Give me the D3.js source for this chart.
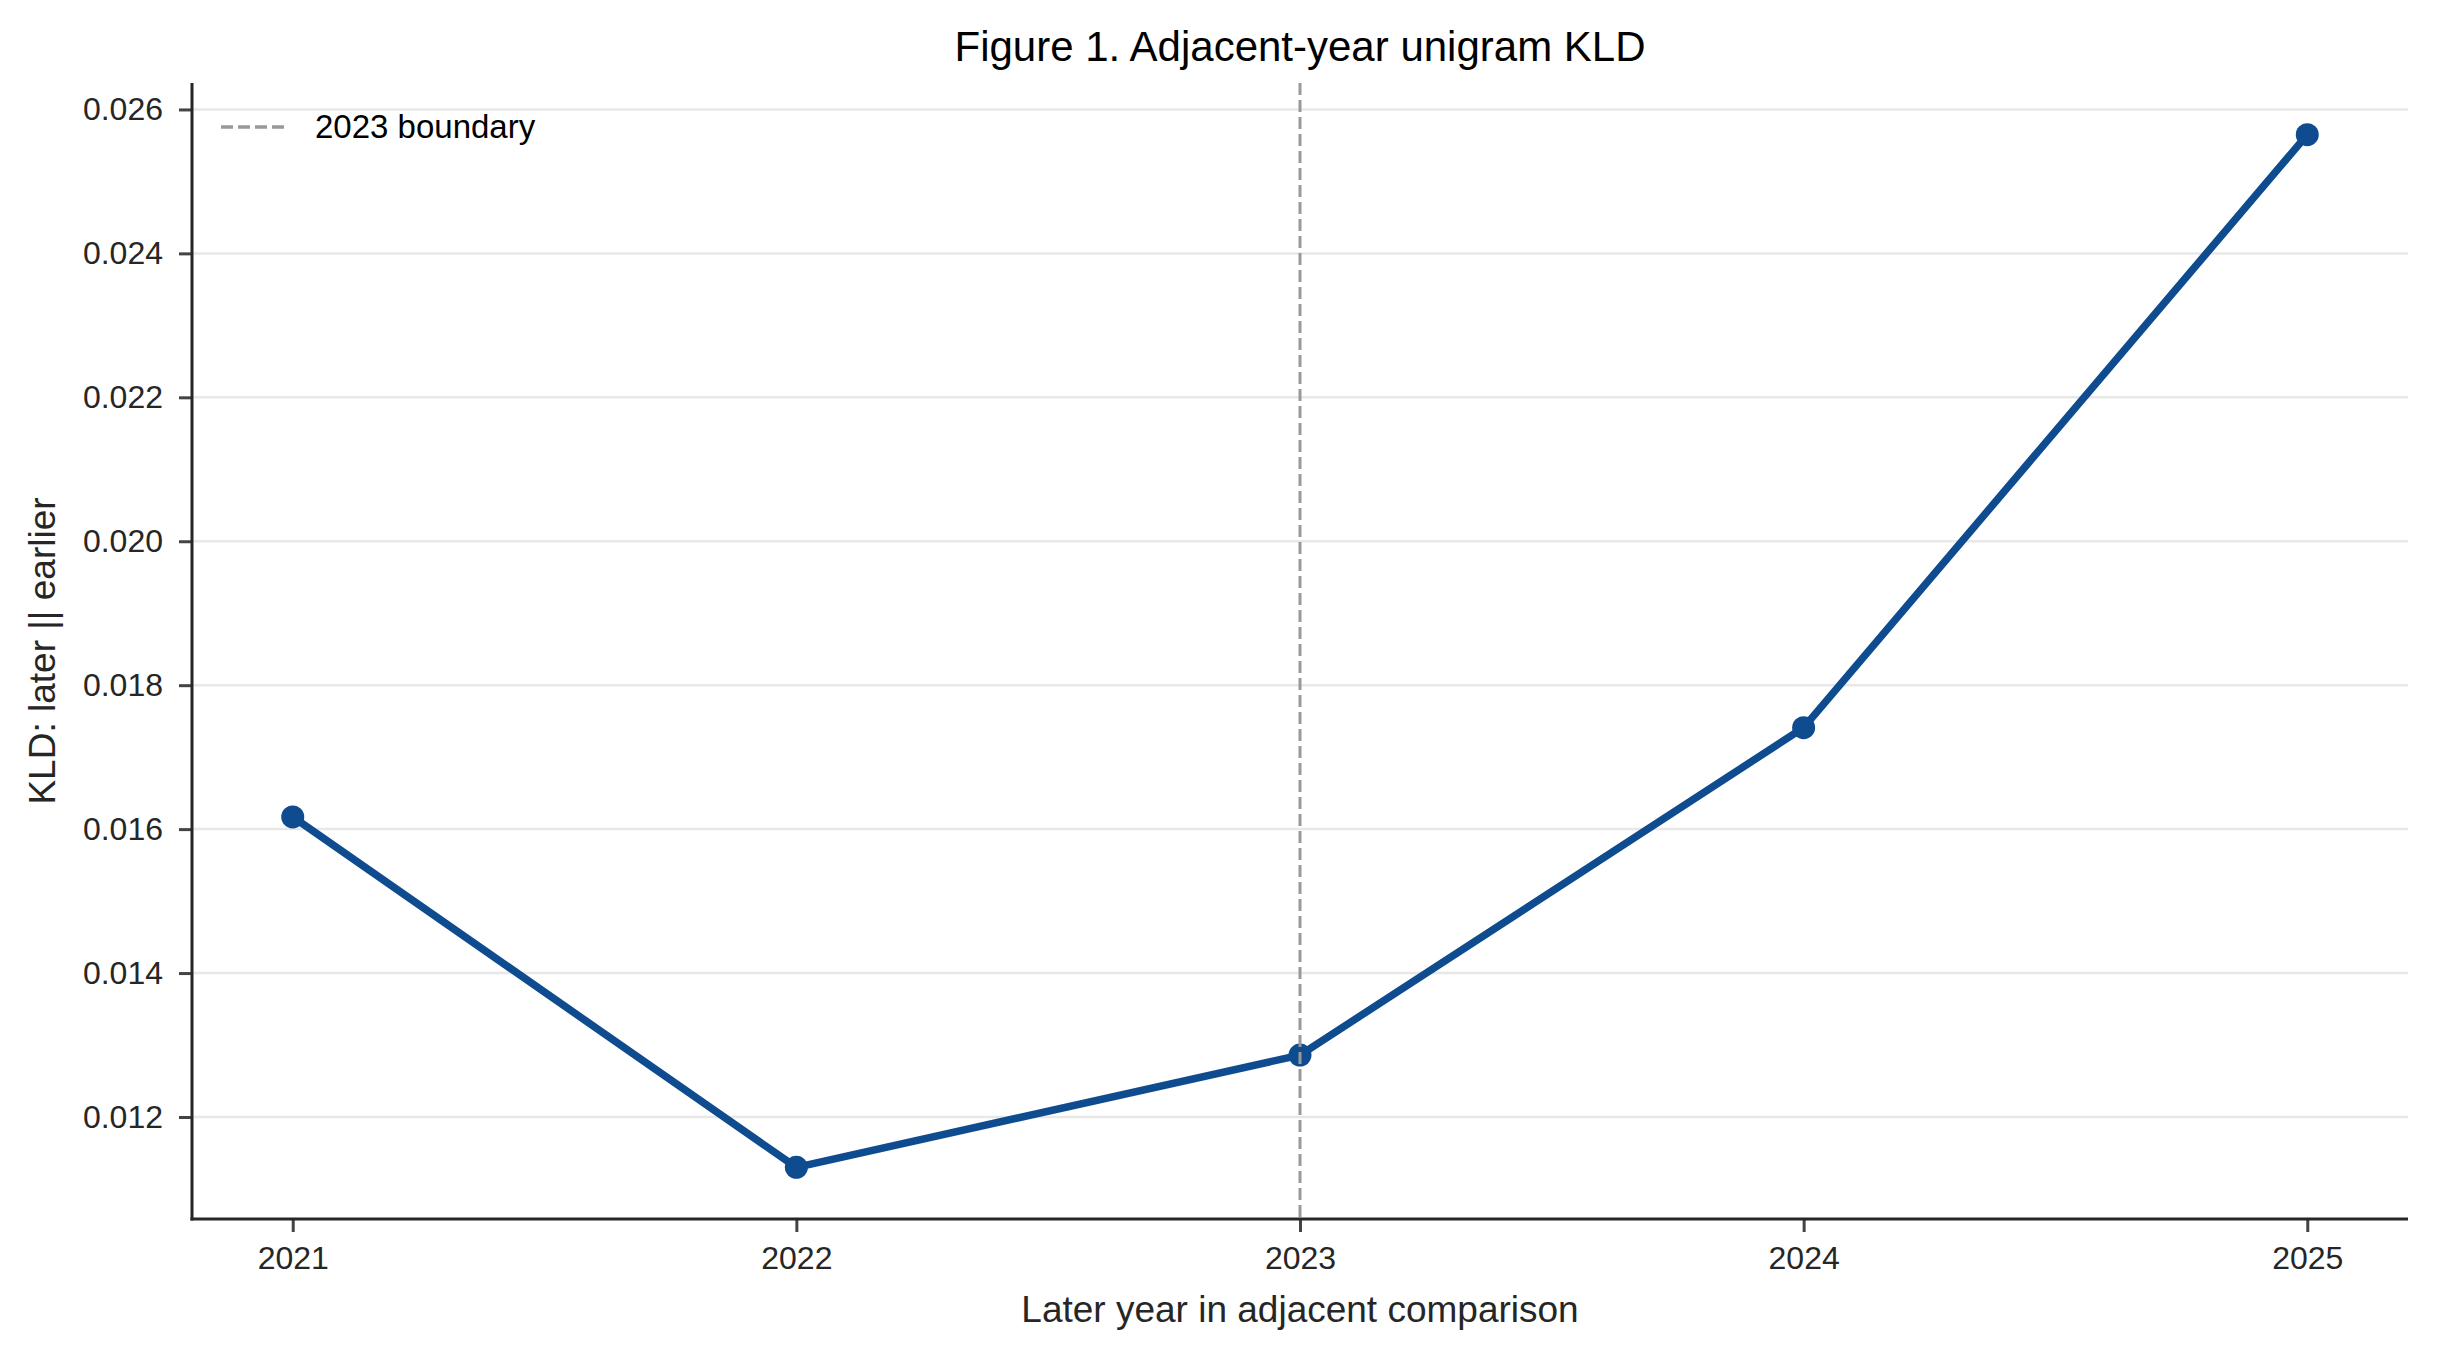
<!DOCTYPE html>
<html>
<head>
<meta charset="utf-8">
<script src="https://cdn.jsdelivr.net/npm/d3@7"></script>
<style>
  html, body { margin: 0; padding: 0; background: #ffffff; }
  svg { display: block; font-family: "Liberation Sans", Arial, sans-serif; }
</style>
</head>
<body>
<svg id="chart" width="2438" height="1358"></svg>
<script>
// ---- data ----
const years = [2021, 2022, 2023, 2024, 2025];
const kld = [0.01617, 0.01130, 0.01286, 0.01741, 0.02565];
const yTicks = [0.012, 0.014, 0.016, 0.018, 0.020, 0.022, 0.024, 0.026];
const boundaryYear = 2023;
const titleText = "Figure 1. Adjacent-year unigram KLD";
const xLabelText = "Later year in adjacent comparison";
const yLabelText = "KLD: later || earlier";
const legendText = "2023 boundary";

// ---- layout ----
const W = 2438, H = 1358;
const m = { left: 192, right: 2408, top: 83, bottom: 1219 };
const lineColor = "#0e4b8f";
const textColor = "#262626";

const svg = d3.select("#chart");
svg.append("rect").attr("width", W).attr("height", H).attr("fill", "#fff");

// data-range with 5% margins (like matplotlib)
const xMin = d3.min(years), xMax = d3.max(years);
const xPad = (xMax - xMin) * 0.05;
const x = d3.scaleLinear().domain([xMin - xPad, xMax + xPad]).range([m.left, m.right]);
const yMin = d3.min(kld), yMax = d3.max(kld);
const yPad = (yMax - yMin) * 0.05;
const y = d3.scaleLinear().domain([yMin - yPad, yMax + yPad]).range([m.bottom, m.top]);

// grid
svg.append("g").selectAll("line").data(yTicks).join("line")
  .attr("x1", m.left).attr("x2", m.right)
  .attr("y1", d => y(d)).attr("y2", d => y(d))
  .attr("stroke", "#e8e8e8").attr("stroke-width", 2.5);

// axes
const yAxis = svg.append("g").attr("transform", `translate(${m.left},0)`)
  .call(d3.axisLeft(y).tickValues(yTicks).tickFormat(d3.format(".3f")).tickSize(13).tickPadding(16));
const xAxis = svg.append("g").attr("transform", `translate(0,${m.bottom})`)
  .call(d3.axisBottom(x).tickValues(years).tickFormat(d3.format("d")).tickSize(13).tickPadding(14));
[yAxis, xAxis].forEach(g => {
  g.select(".domain").remove();
  g.selectAll(".tick line").attr("stroke", "#444").attr("stroke-width", 3);
  g.selectAll(".tick text").attr("fill", textColor).attr("font-size", 32)
   .attr("font-family", "Liberation Sans, Arial, sans-serif");
});
// spines
svg.append("line").attr("x1", m.left).attr("x2", m.left).attr("y1", m.top).attr("y2", m.bottom + 1.5)
  .attr("stroke", textColor).attr("stroke-width", 3);
svg.append("line").attr("x1", m.left - 1.5).attr("x2", m.right).attr("y1", m.bottom).attr("y2", m.bottom)
  .attr("stroke", textColor).attr("stroke-width", 3);

// series line
const pts = years.map((yr, i) => ({ yr, v: kld[i] }));
svg.append("path").datum(pts)
  .attr("d", d3.line().x(d => x(d.yr)).y(d => y(d.v)))
  .attr("fill", "none").attr("stroke", lineColor).attr("stroke-width", 7.5)
  .attr("stroke-linejoin", "round");
svg.append("g").selectAll("circle").data(pts).join("circle")
  .attr("cx", d => x(d.yr)).attr("cy", d => y(d.v)).attr("r", 11.5)
  .attr("fill", lineColor);

// boundary line
svg.append("line")
  .attr("x1", x(boundaryYear)).attr("x2", x(boundaryYear))
  .attr("y1", m.top).attr("y2", m.bottom)
  .attr("stroke", "#999999").attr("stroke-width", 3).attr("stroke-dasharray", "12,5");

// legend
svg.append("line").attr("x1", 221).attr("x2", 288).attr("y1", 127).attr("y2", 127)
  .attr("stroke", "#999999").attr("stroke-width", 3.5).attr("stroke-dasharray", "12,5");
svg.append("text").attr("x", 315).attr("y", 138).text(legendText)
  .attr("font-size", 33).attr("fill", "#000");

// title & labels
svg.append("text").attr("x", (m.left + m.right) / 2).attr("y", 61)
  .attr("text-anchor", "middle").attr("font-size", 42).attr("fill", "#000").text(titleText);
svg.append("text").attr("x", (m.left + m.right) / 2).attr("y", 1322)
  .attr("text-anchor", "middle").attr("font-size", 37).attr("fill", textColor).text(xLabelText);
svg.append("text")
  .attr("transform", `translate(55,${(m.top + m.bottom) / 2}) rotate(-90)`)
  .attr("text-anchor", "middle").attr("font-size", 37).attr("fill", textColor).text(yLabelText);
</script>
</body>
</html>
